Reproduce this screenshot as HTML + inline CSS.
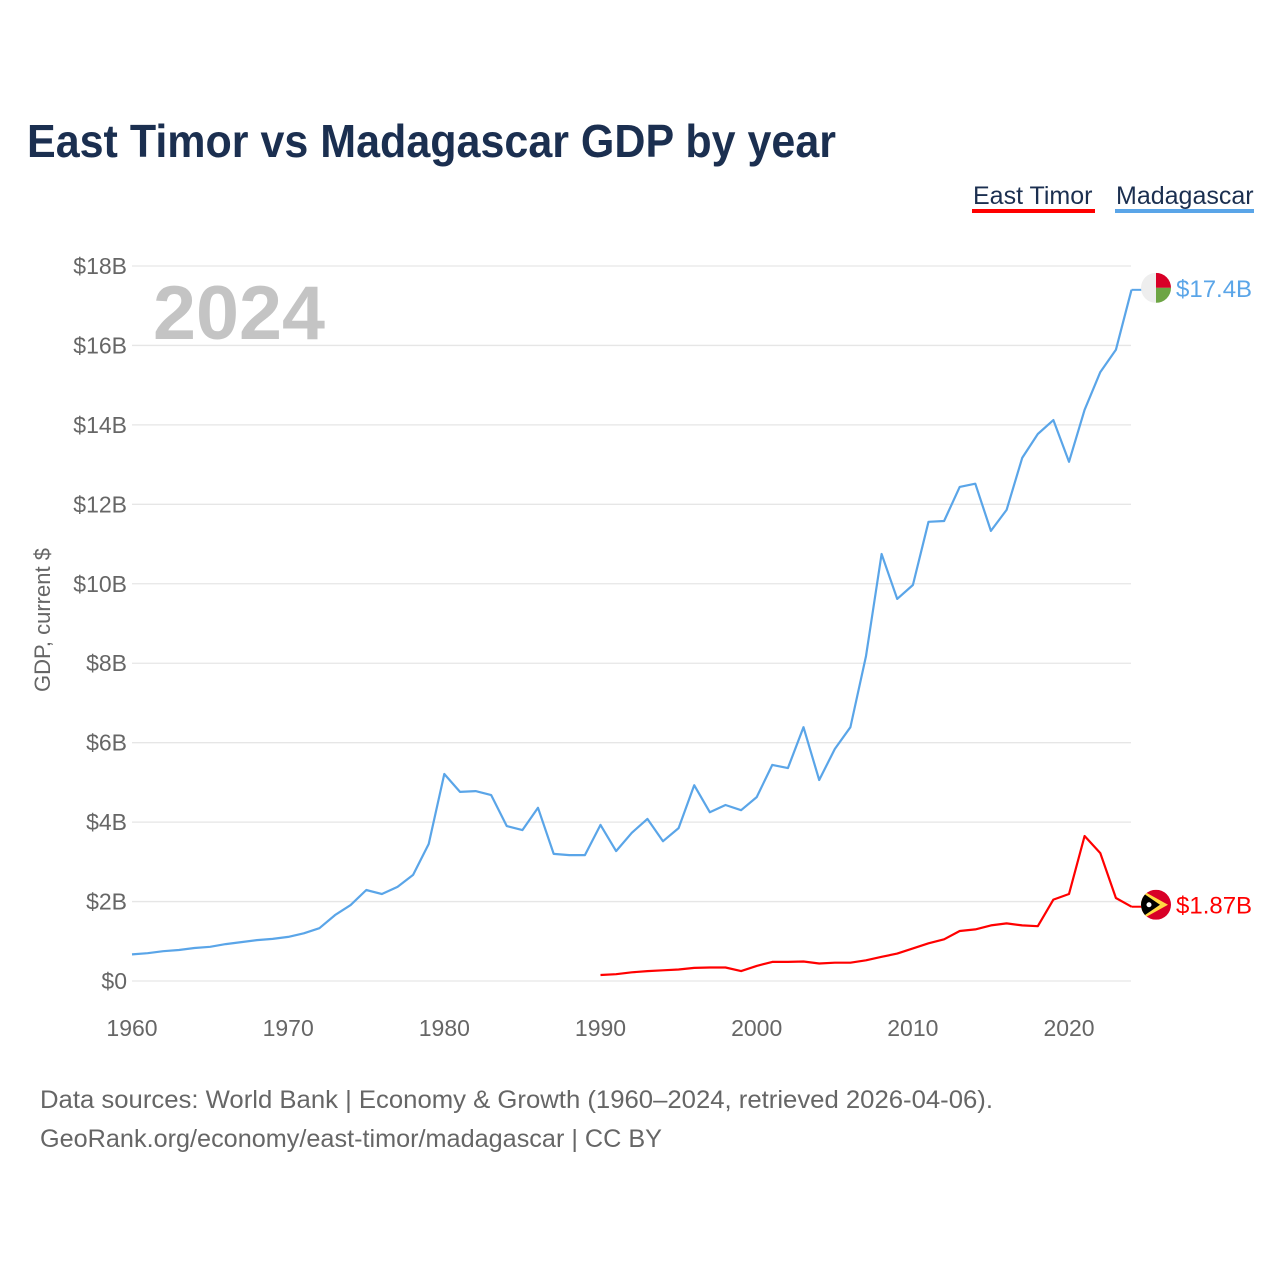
<!DOCTYPE html>
<html><head><meta charset="utf-8"><style>
body{margin:0;background:#fff;}
svg{display:block;font-family:"Liberation Sans",sans-serif;}
</style></head><body>
<svg id="chart" width="1280" height="1280" viewBox="0 0 1280 1280">
<text x="27" y="157" font-size="46" font-weight="bold" fill="#1b2f50" textLength="809" lengthAdjust="spacingAndGlyphs">East Timor vs Madagascar GDP by year</text>
<g>
<text x="973" y="204" font-size="25" fill="#1b2f50">East Timor</text>
<rect x="972" y="209" width="123" height="4" fill="#ff0000"/>
<text x="1116" y="204" font-size="25" fill="#1b2f50">Madagascar</text>
<rect x="1115" y="209" width="139" height="4" fill="#5aa5e8"/>
</g>
<text x="153" y="339" font-size="76" font-weight="bold" fill="#c4c4c4" textLength="172" lengthAdjust="spacingAndGlyphs">2024</text>
<text transform="translate(50,620) rotate(-90)" text-anchor="middle" font-size="22" fill="#666">GDP, current $</text>
<g id="grid"></g><g id="yt"></g><g id="xt"></g><g id="lines"></g><g id="ends"></g>
<text x="40" y="1108" font-size="25" fill="#666" textLength="953" lengthAdjust="spacingAndGlyphs">Data sources: World Bank | Economy &amp; Growth (1960–2024, retrieved 2026-04-06).</text>
<text x="40" y="1147" font-size="25" fill="#666" textLength="622" lengthAdjust="spacingAndGlyphs">GeoRank.org/economy/east-timor/madagascar | CC BY</text>
</svg>
<script>
const madYears=[1960,1961,1962,1963,1964,1965,1966,1967,1968,1969,1970,1971,1972,1973,1974,1975,1976,1977,1978,1979,1980,1981,1982,1983,1984,1985,1986,1987,1988,1989,1990,1991,1992,1993,1994,1995,1996,1997,1998,1999,2000,2001,2002,2003,2004,2005,2006,2007,2008,2009,2010,2011,2012,2013,2014,2015,2016,2017,2018,2019,2020,2021,2022,2023,2024];
const madValues=[0.67,0.70,0.75,0.78,0.83,0.86,0.93,0.98,1.03,1.06,1.11,1.20,1.33,1.66,1.91,2.29,2.19,2.37,2.67,3.45,5.21,4.76,4.78,4.68,3.90,3.80,4.36,3.20,3.17,3.17,3.93,3.27,3.73,4.08,3.52,3.85,4.93,4.25,4.43,4.30,4.63,5.44,5.36,6.39,5.06,5.84,6.39,8.18,10.75,9.62,9.97,11.56,11.58,12.44,12.52,11.33,11.86,13.17,13.77,14.12,13.07,14.38,15.33,15.89,17.4];
const etYears=[1990,1991,1992,1993,1994,1995,1996,1997,1998,1999,2000,2001,2002,2003,2004,2005,2006,2007,2008,2009,2010,2011,2012,2013,2014,2015,2016,2017,2018,2019,2020,2021,2022,2023,2024];
const etValues=[0.15,0.17,0.22,0.25,0.27,0.29,0.33,0.34,0.34,0.25,0.38,0.48,0.48,0.49,0.44,0.46,0.46,0.52,0.61,0.69,0.82,0.95,1.05,1.26,1.30,1.40,1.45,1.40,1.38,2.05,2.19,3.65,3.22,2.09,1.87];
const yTicks=[0,2,4,6,8,10,12,14,16,18];
const yTickLabels=["$0","$2B","$4B","$6B","$8B","$10B","$12B","$14B","$16B","$18B"];
const xTicks=[1960,1970,1980,1990,2000,2010,2020];
const endLabels=["$17.4B","$1.87B"];
const NS="http://www.w3.org/2000/svg";
const X=y=>132+(y-1960)*(1131.5-132)/64;
const Y=v=>981-v*(981-266)/18;
function mk(tag,attrs,parent,text){const e=document.createElementNS(NS,tag);for(const k in attrs)e.setAttribute(k,attrs[k]);if(text!=null)e.textContent=text;document.getElementById(parent).appendChild(e);return e;}
yTicks.forEach((t,i)=>{
 const g=mk('line',{x1:132,x2:1131,y1:Y(t),y2:Y(t),stroke:'#e6e6e6','stroke-width':1.3},'grid');
 
 
 const l=mk('text',{x:127,y:Y(t)+8,'text-anchor':'end','font-size':23,fill:'#666'},'yt',yTickLabels[i]);
 
 
});
xTicks.forEach(t=>{
 const l=mk('text',{x:X(t),y:1036,'text-anchor':'middle','font-size':23,fill:'#666'},'xt',t);
 
 
});
function line(years,vals,color,name){
 const d=years.map((y,i)=>(i?'L':'M')+X(y).toFixed(1)+','+Y(vals[i]).toFixed(1)).join(' ');
 const p=mk('path',{d:d,fill:'none',stroke:color,'stroke-width':2.2,'stroke-linejoin':'round'},'lines');
 
 
}
line(madYears,madValues,'#5aa5e8','madagascar-line');
line(etYears,etValues,'#ff0000','east-timor-line');
const mv=madValues[madValues.length-1], ev=etValues[etValues.length-1];
const x0=X(2024);
mk('line',{x1:x0,x2:x0+10,y1:Y(mv),y2:Y(mv),stroke:'#5aa5e8','stroke-width':2},'ends');
mk('line',{x1:x0,x2:x0+10,y1:Y(ev),y2:Y(ev),stroke:'#ff0000','stroke-width':2},'ends');
const cx=1156;
let my=Y(mv)-2;
let ey=Y(ev)-2;
mk('defs',{},'ends').innerHTML='<clipPath id="c1"><circle cx="'+cx+'" cy="'+my+'" r="15"/></clipPath><clipPath id="c2"><circle cx="'+cx+'" cy="'+ey+'" r="15"/></clipPath>';
const f1=mk('g',{'clip-path':'url(#c1)'},'ends');


f1.innerHTML='<rect x="'+(cx-15)+'" y="'+(my-15)+'" width="30" height="30" fill="#eee"/><rect x="'+cx+'" y="'+(my-15)+'" width="15" height="15" fill="#d80027"/><rect x="'+cx+'" y="'+my+'" width="15" height="15" fill="#6da544"/>';
const f2=mk('g',{'clip-path':'url(#c2)'},'ends');


f2.innerHTML='<rect x="'+(cx-15)+'" y="'+(ey-15)+'" width="30" height="30" fill="#d80027"/><polygon points="'+(cx-15)+','+(ey-15)+' '+(cx+12)+','+ey+' '+(cx-15)+','+(ey+15)+'" fill="#ffda44"/><polygon points="'+(cx-15)+','+(ey-13)+' '+(cx+4)+','+ey+' '+(cx-15)+','+(ey+13)+'" fill="#000"/><circle cx="'+(cx-7)+'" cy="'+ey+'" r="2.5" fill="#fff"/>';
const t1=mk('text',{x:1176,y:my+9,'font-size':24,fill:'#5aa5e8'},'ends',endLabels[0]);


const t2=mk('text',{x:1176,y:ey+9,'font-size':24,fill:'#ff0000'},'ends',endLabels[1]);


</script>
</body></html>
